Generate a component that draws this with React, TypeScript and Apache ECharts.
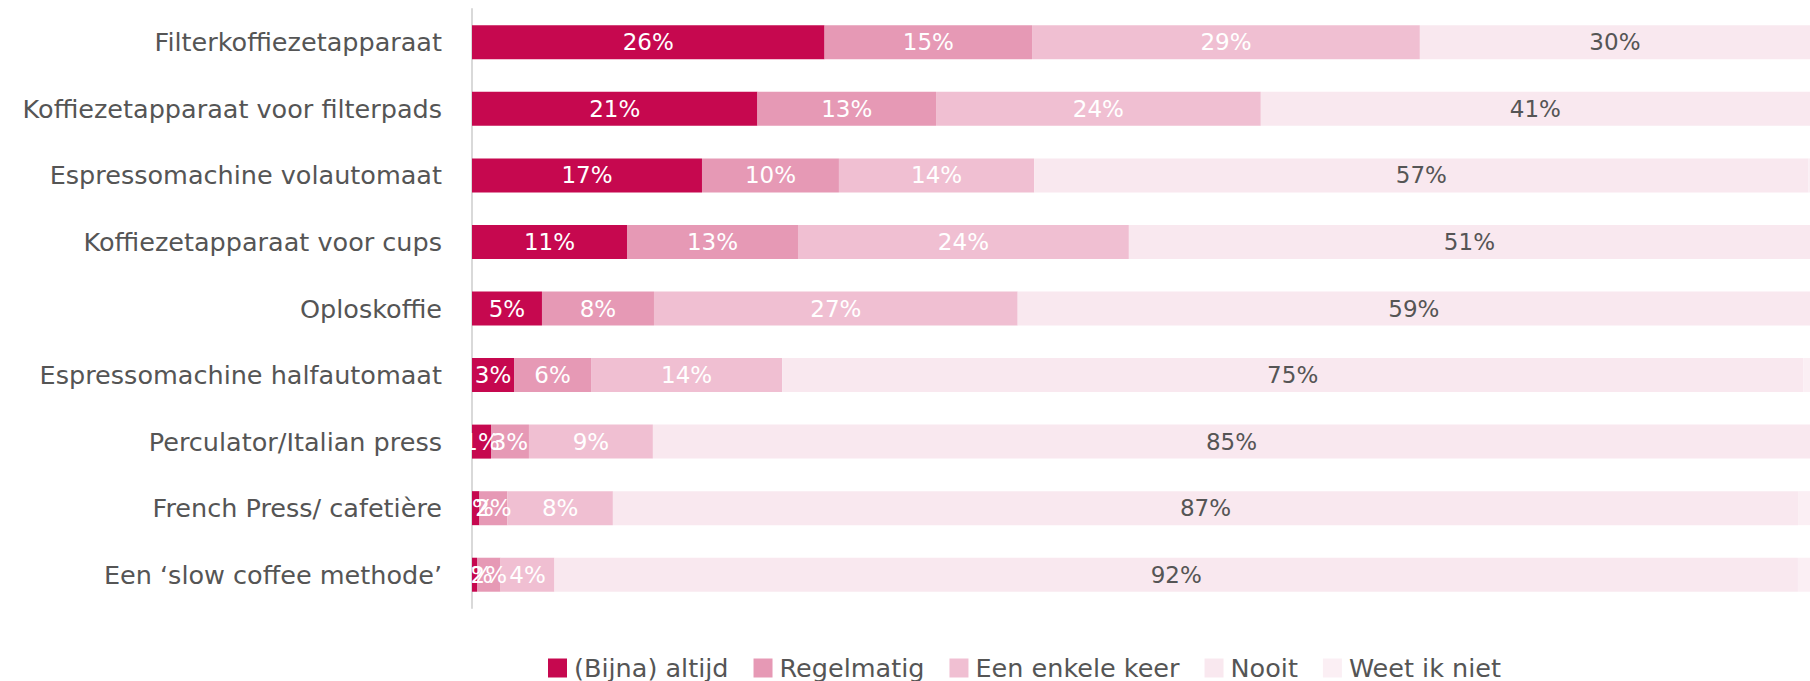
import React, { useEffect, useRef } from "react";
import * as echarts from "echarts";

const categories = [
  "Filterkoffiezetapparaat",
  "Koffiezetapparaat voor filterpads",
  "Espressomachine volautomaat",
  "Koffiezetapparaat voor cups",
  "Oploskoffie",
  "Espressomachine halfautomaat",
  "Perculator/Italian press",
  "French Press/ cafetière",
  "Een ‘slow coffee methode’",
];

const seriesNames = ["(Bijna) altijd", "Regelmatig", "Een enkele keer", "Nooit", "Weet ik niet"];

const altijd = [26.0, 21.05, 16.96, 11.43, 5.16, 3.1, 1.4, 0.55, 0.37];
const regelmatig = [15.3, 13.17, 10.1, 12.61, 8.26, 5.68, 2.8, 2.06, 1.74];
const enkeleKeer = [28.6, 23.95, 14.4, 24.4, 26.82, 14.09, 9.14, 7.78, 3.97];
const nooit = [29.9, 41.4, 57.1, 51.4, 59.3, 75.3, 85.4, 87.4, 91.7];
const weetIkNiet = [0.2, 0.5, 1.4, 0.2, 0.5, 1.8, 1.3, 2.2, 2.2];

// visible part of the percentage axis (the original chart is cut at the right edge)
const axisMax = 98.67;

const colors = ["#C6084F", "#E699B5", "#F0BFD2", "#F9E8EF", "#FBEFF4"];
const labelColors = ["#ffffff", "#ffffff", "#ffffff", "#555555", "#555555"];

const FONT = "DejaVu Sans";

export default function App() {
  const ref = useRef<HTMLDivElement>(null);

  useEffect(() => {
    document.body.style.margin = "0";
    if (!ref.current) return;
    const chart = echarts.init(ref.current, undefined, { renderer: "svg" });
    const dataSets = [altijd, regelmatig, enkeleKeer, nooit, weetIkNiet];
    chart.setOption({
      animation: false,
      textStyle: { fontFamily: FONT },
      grid: { left: 472, right: 0, top: 9, bottom: 73, containLabel: false },
      legend: {
        data: seriesNames,
        left: 543,
        top: 650,
        icon: "rect",
        itemWidth: 19,
        itemHeight: 19,
        itemGap: 25,
        textStyle: { fontFamily: FONT, fontSize: 25.5, color: "#555555", padding: [0, 0, 0, 2] },
      },
      xAxis: {
        type: "value",
        min: 0,
        max: axisMax,
        show: false,
        splitLine: { show: false },
      },
      yAxis: {
        type: "category",
        data: categories,
        inverse: true,
        axisTick: { show: false },
        axisLine: { show: true, lineStyle: { color: "#d9d9d9", width: 2 } },
        axisLabel: {
          fontFamily: FONT,
          fontSize: 25.5,
          color: "#555555",
          margin: 30,
          padding: [0, 0, 6, 0],
        },
      },
      series: seriesNames.map((name, i) => ({
        name,
        type: "bar",
        stack: "total",
        barWidth: 34,
        clip: true,
        data: dataSets[i],
        itemStyle: { color: colors[i] },
        label: {
          show: i < 4,
          position: "inside",
          color: labelColors[i],
          fontFamily: FONT,
          fontSize: 23,
          formatter: (p: any) => Math.round(p.value) + "%",
        },
      })),
    });
    return () => chart.dispose();
  }, []);

  return <div ref={ref} style={{ width: 1810, height: 681 }} />;
}
